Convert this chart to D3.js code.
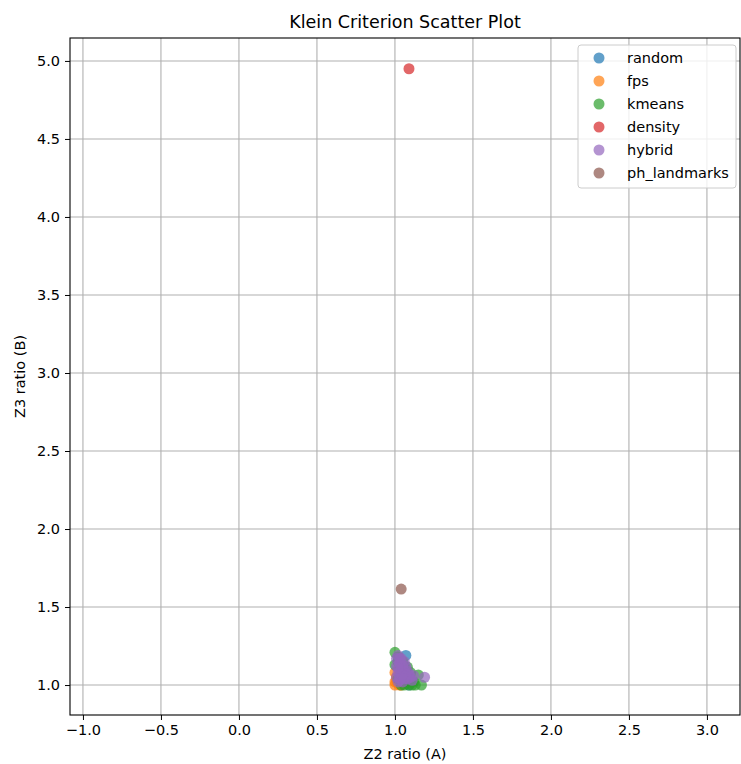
<!DOCTYPE html>
<html>
<head>
<meta charset="utf-8">
<script src="https://cdn.jsdelivr.net/npm/d3@7"></script>
<style>
  body { margin: 0; background: #fff; }
  svg { font-family: "DejaVu Sans", sans-serif; }
</style>
</head>
<body>
<svg id="chart" width="741" height="764"></svg>
<script>
// Klein criterion ratios per landmark-selection method: [Z2 ratio (A), Z3 ratio (B)]
const methods = ["random", "fps", "kmeans", "density", "hybrid", "ph_landmarks"];
const colors = ["#1f77b4", "#ff7f0e", "#2ca02c", "#d62728", "#9467bd", "#8c564b"];

const random = [[1.02,1.05],[1.03,1.10],[1.05,1.08],[1.07,1.19],[1.06,1.12],[1.04,1.03],[1.08,1.06],[1.10,1.02],[1.09,1.00],[1.02,1.15],[1.07,1.01]];
const fps = [[1.00,1.02],[1.00,1.00],[1.01,1.03],[1.02,1.01],[1.03,1.00],[1.01,1.05],[1.00,1.08],[1.04,1.00]];
const kmeans = [[1.00,1.21],[1.02,1.18],[1.05,1.15],[1.08,1.115],[1.10,1.08],[1.15,1.065],[1.17,1.00],[1.12,1.02],[1.09,1.00],[1.06,1.00],[1.04,1.00],[1.02,1.04],[1.00,1.13],[1.06,1.05],[1.11,1.00],[1.13,1.00]];
const density = [[1.09,4.95]];
const hybrid = [[1.01,1.17],[1.02,1.19],[1.01,1.12],[1.02,1.08],[1.03,1.14],[1.04,1.10],[1.03,1.05],[1.05,1.06],[1.06,1.09],[1.07,1.12],[1.04,1.17],[1.05,1.02],[1.08,1.04],[1.09,1.07],[1.10,1.05],[1.12,1.06],[1.06,1.15],[1.02,1.02],[1.19,1.05],[1.08,1.09],[1.01,1.05],[1.03,1.03],[1.05,1.12],[1.03,1.17],[1.07,1.07],[1.04,1.07],[1.02,1.11],[1.06,1.04],[1.11,1.03]];
const ph_landmarks = [[1.04,1.615]];
const seriesData = [random, fps, kmeans, density, hybrid, ph_landmarks];

const xTicks = [-1.0, -0.5, 0.0, 0.5, 1.0, 1.5, 2.0, 2.5, 3.0];
const yTicks = [1.0, 1.5, 2.0, 2.5, 3.0, 3.5, 4.0, 4.5, 5.0];
const xDomain = [-1.083, 3.212];
const yDomain = [0.808, 5.147];

const svg = d3.select("#chart");
const L = 70, R = 740, T = 38, B = 715;

const x = d3.scaleLinear().domain(xDomain).range([L, R]);
const y = d3.scaleLinear().domain(yDomain).range([B, T]);

// grid
const grid = svg.append("g").attr("stroke", "#b0b0b0").attr("stroke-width", 1.1);
grid.selectAll(".gx").data(xTicks).join("line")
  .attr("x1", d => x(d)).attr("x2", d => x(d)).attr("y1", T).attr("y2", B);
grid.selectAll(".gy").data(yTicks).join("line")
  .attr("y1", d => y(d)).attr("y2", d => y(d)).attr("x1", L).attr("x2", R);

// axes
const fmt = d => d3.format(".1f")(d).replace("-", "\u2212");
const xAxis = svg.append("g").attr("transform", `translate(0,${B})`)
  .call(d3.axisBottom(x).tickValues(xTicks).tickFormat(fmt).tickSize(5).tickPadding(5));
const yAxis = svg.append("g").attr("transform", `translate(${L},0)`)
  .call(d3.axisLeft(y).tickValues(yTicks).tickFormat(fmt).tickSize(5).tickPadding(5));
[xAxis, yAxis].forEach(a => {
  a.select(".domain").remove();
  a.selectAll("text").attr("font-size", 14.5).attr("fill", "#000").attr("font-family", "DejaVu Sans");
  a.selectAll("line").attr("stroke", "#000");
});

// points
methods.forEach((m, i) => {
  svg.append("g").selectAll("circle").data(seriesData[i]).join("circle")
    .attr("cx", d => x(d[0])).attr("cy", d => y(d[1])).attr("r", 5.5)
    .attr("fill", colors[i]).attr("fill-opacity", 0.7);
});

// frame
svg.append("rect").attr("x", L).attr("y", T).attr("width", R - L).attr("height", B - T)
  .attr("fill", "none").attr("stroke", "#000").attr("stroke-width", 1.1);

// title and labels
svg.append("text").attr("x", (L + R) / 2).attr("y", 28).attr("text-anchor", "middle")
  .attr("font-size", 17.5).text("Klein Criterion Scatter Plot");
svg.append("text").attr("x", (L + R) / 2).attr("y", 759).attr("text-anchor", "middle")
  .attr("font-size", 14.5).text("Z2 ratio (A)");
svg.append("text").attr("transform", `translate(25,${(T + B) / 2}) rotate(-90)`)
  .attr("text-anchor", "middle").attr("font-size", 14.5).text("Z3 ratio (B)");

// legend
const lg = svg.append("g").attr("transform", "translate(578,45)");
lg.append("rect").attr("width", 158).attr("height", 143).attr("rx", 3)
  .attr("fill", "#fff").attr("fill-opacity", 0.8).attr("stroke", "#ccc");
methods.forEach((m, i) => {
  const row = lg.append("g").attr("transform", `translate(0,${13 + i * 23})`);
  row.append("circle").attr("cx", 21).attr("cy", 0).attr("r", 5.5)
    .attr("fill", colors[i]).attr("fill-opacity", 0.7);
  row.append("text").attr("x", 49).attr("y", 5).attr("font-size", 14.5).text(m);
});
</script>
</body>
</html>
